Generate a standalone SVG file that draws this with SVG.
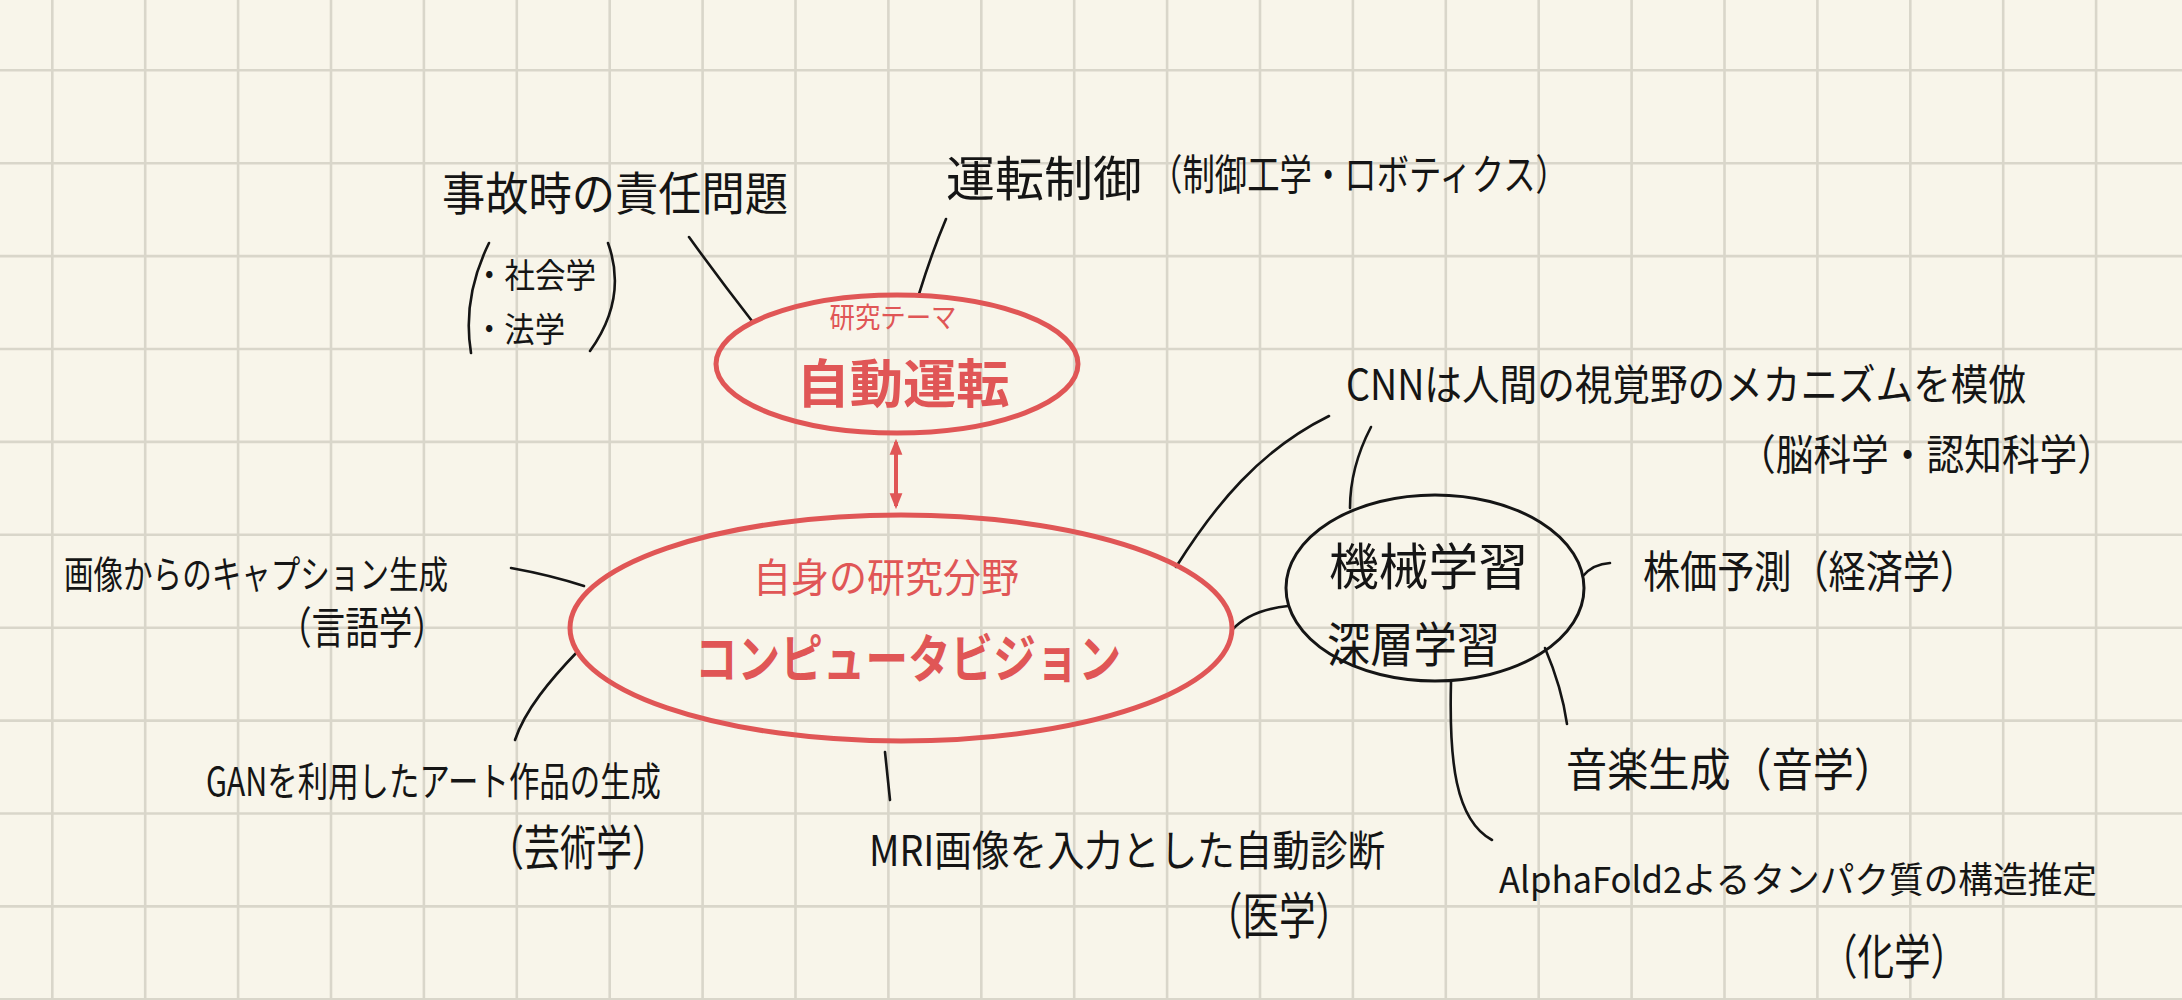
<svg xmlns="http://www.w3.org/2000/svg" width="2182" height="1000" viewBox="0 0 2182 1000">
<style>
.bg{fill:#f8f5ea}
.grid{stroke:#d9d6ca;stroke-width:2.6;fill:none}
.t{font-family:"Noto Sans CJK JP","Noto Sans",sans-serif;fill:#151515;font-weight:400}
.r{font-family:"Noto Sans CJK JP","Noto Sans",sans-serif;fill:#e05656}
.c{stroke:#151515;stroke-width:2.6;fill:none;stroke-linecap:round}
.ell{fill:none;stroke:#e05656;stroke-width:5}
.circ{fill:none;stroke:#151515;stroke-width:3}
</style>
<defs>
<marker id="ra" viewBox="0 0 10 10" refX="8" refY="5" markerWidth="4" markerHeight="4" orient="auto-start-reverse">
<path d="M0 1 L10 5 L0 9 Z" fill="#e05656"/>
</marker>
</defs>
<rect class="bg" x="0" y="0" width="2182" height="1000"/>
<path class="grid" d="M52.3 0V1000M145.2 0V1000M238.1 0V1000M331 0V1000M423.9 0V1000M516.8 0V1000M609.7 0V1000M702.6 0V1000M795.5 0V1000M888.4 0V1000M981.3 0V1000M1074.2 0V1000M1167.1 0V1000M1260 0V1000M1352.9 0V1000M1445.8 0V1000M1538.7 0V1000M1631.6 0V1000M1724.5 0V1000M1817.4 0V1000M1910.3 0V1000M2003.2 0V1000M2096.1 0V1000M0 70.3H2182M0 163.2H2182M0 256.1H2182M0 349H2182M0 441.9H2182M0 534.8H2182M0 627.7H2182M0 720.6H2182M0 813.5H2182M0 906.4H2182M0 999.3H2182"/>

<g id="connectors">
<path class="c" d="M689 237 Q720 280 752 321"/>
<path class="c" d="M946 219 Q932 252 919 294"/>
<path d="M896 442 L896 506" stroke="#e05656" stroke-width="4" fill="none" marker-start="url(#ra)" marker-end="url(#ra)"/>
<path class="c" d="M1176 567 C1215 505 1260 450 1329 416"/>
<path class="c" d="M1371 427 C1358 452 1350 478 1350 508"/>
<path class="c" d="M1232 630 Q1250 610 1288 606"/>
<path class="c" d="M1583 576 Q1593 564 1610 563"/>
<path class="c" d="M1545 648 Q1562 688 1567 724"/>
<path class="c" d="M1451 682 C1449 760 1455 820 1492 840"/>
<path class="c" d="M511 568 Q550 575 584 586"/>
<path class="c" d="M578 651 C550 680 525 710 515 740"/>
<path class="c" d="M885 752 L890 800"/>
</g>

<g id="node-jidou-unten">
<ellipse class="ell" cx="897" cy="364" rx="181" ry="69"/>
<text class="r" x="893" y="328" font-size="28" text-anchor="middle" textLength="127" lengthAdjust="spacingAndGlyphs">研究テーマ</text>
<text class="r" x="903" y="403" font-size="52" font-weight="700" text-anchor="middle" textLength="213" lengthAdjust="spacingAndGlyphs">自動運転</text>
</g>

<g id="node-cv">
<ellipse class="ell" cx="901" cy="628" rx="331" ry="113"/>
<text class="r" x="886" y="592" font-size="40" text-anchor="middle" textLength="266" lengthAdjust="spacingAndGlyphs">自身の研究分野</text>
<text class="r" x="908" y="678" font-size="52" font-weight="700" text-anchor="middle" textLength="426" lengthAdjust="spacingAndGlyphs">コンピュータビジョン</text>
</g>

<g id="node-ml">
<ellipse class="circ" cx="1435" cy="588" rx="149" ry="93"/>
<text class="t" x="1329" y="585" font-size="50" textLength="199" lengthAdjust="spacingAndGlyphs">機械学習</text>
<text class="t" x="1327" y="662" font-size="48" textLength="173" lengthAdjust="spacingAndGlyphs">深層学習</text>
</g>

<g id="node-jiko">
<text class="t" x="442" y="210" font-size="46" textLength="346" lengthAdjust="spacingAndGlyphs">事故時の責任問題</text>
<path class="c" d="M489 243 Q462 298 471 353"/>
<text class="t" x="474" y="288" font-size="34" textLength="122" lengthAdjust="spacingAndGlyphs">・社会学</text>
<text class="t" x="474" y="342" font-size="34" textLength="91" lengthAdjust="spacingAndGlyphs">・法学</text>
<path class="c" d="M608 243 Q628 298 590 351"/>
</g>

<g id="node-unten-seigyo">
<text class="t" x="946" y="196" font-size="48" textLength="196" lengthAdjust="spacingAndGlyphs">運転制御</text>
<text class="t" x="1150" y="190" font-size="42" textLength="418" lengthAdjust="spacingAndGlyphs">（制御工学・ロボティクス）</text>
</g>

<g id="node-cnn">
<text class="t" x="1346" y="400" font-size="42" textLength="680" lengthAdjust="spacingAndGlyphs">CNNは人間の視覚野のメカニズムを模倣</text>
<text class="t" x="1738" y="470" font-size="42" textLength="377" lengthAdjust="spacingAndGlyphs">（脳科学・認知科学）</text>
</g>

<g id="node-kabuka">
<text class="t" x="1643" y="588" font-size="44" textLength="334" lengthAdjust="spacingAndGlyphs">株価予測（経済学）</text>
</g>

<g id="node-ongaku">
<text class="t" x="1566" y="786" font-size="46" textLength="329" lengthAdjust="spacingAndGlyphs">音楽生成（音学）</text>
</g>

<g id="node-alphafold">
<text class="t" x="1499" y="893" font-size="36" textLength="598" lengthAdjust="spacingAndGlyphs">AlphaFold2よるタンパク質の構造推定</text>
<text class="t" x="1821" y="974" font-size="48" textLength="146" lengthAdjust="spacingAndGlyphs">（化学）</text>
</g>

<g id="node-caption">
<text class="t" x="64" y="588" font-size="38" textLength="384" lengthAdjust="spacingAndGlyphs">画像からのキャプション生成</text>
<text class="t" x="278" y="644" font-size="44" textLength="168" lengthAdjust="spacingAndGlyphs">（言語学）</text>
</g>

<g id="node-gan">
<text class="t" x="206" y="796" font-size="40" textLength="455" lengthAdjust="spacingAndGlyphs">GANを利用したアート作品の生成</text>
<text class="t" x="488" y="865" font-size="48" textLength="180" lengthAdjust="spacingAndGlyphs">（芸術学）</text>
</g>

<g id="node-mri">
<text class="t" x="869" y="866" font-size="42" textLength="516" lengthAdjust="spacingAndGlyphs">MRI画像を入力とした自動診断</text>
<text class="t" x="1206" y="934" font-size="50" textLength="146" lengthAdjust="spacingAndGlyphs">（医学）</text>
</g>
</svg>
